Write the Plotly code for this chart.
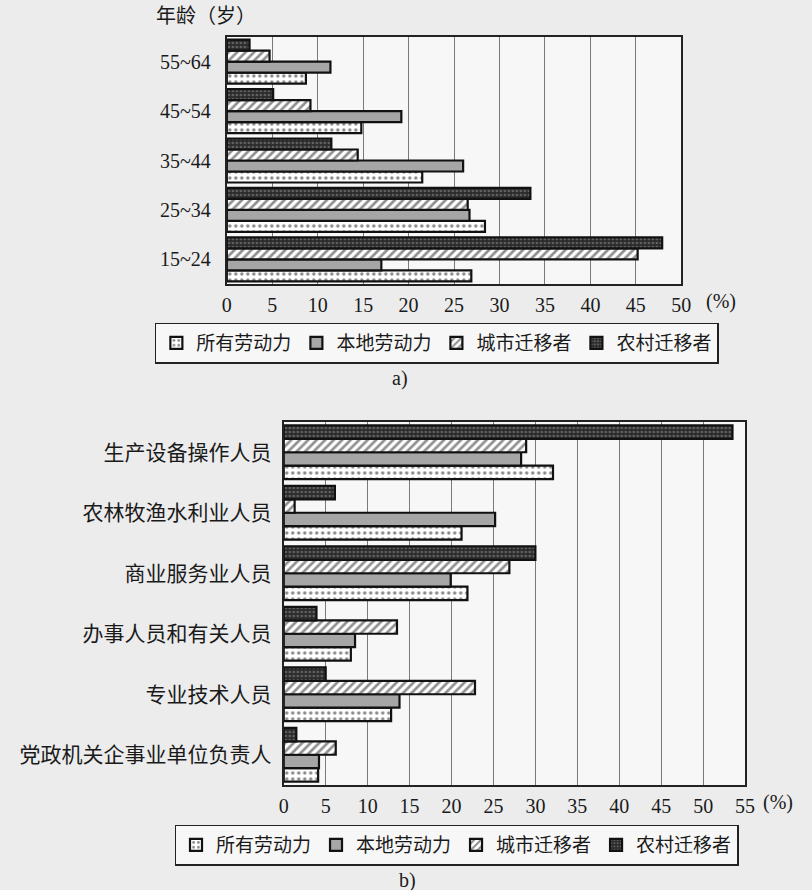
import plotly.graph_objects as go

# ---------------- data ----------------
series = ["所有劳动力", "本地劳动力", "城市迁移者", "农村迁移者"]

age_groups = ["15~24", "25~34", "35~44", "45~54", "55~64"]
age_all = [26.9, 28.4, 21.5, 14.8, 8.7]
age_local = [17.0, 26.7, 26.0, 19.2, 11.4]
age_urban = [45.2, 26.5, 14.4, 9.2, 4.7]
age_rural = [47.9, 33.4, 11.5, 5.1, 2.5]

occupations = ["党政机关企事业单位负责人", "专业技术人员", "办事人员和有关人员",
               "商业服务业人员", "农林牧渔水利业人员", "生产设备操作人员"]
occ_all = [4.1, 12.8, 8.0, 21.9, 21.2, 32.1]
occ_local = [4.2, 13.8, 8.5, 19.9, 25.2, 28.3]
occ_urban = [6.2, 22.8, 13.5, 26.9, 1.3, 28.9]
occ_rural = [1.5, 5.0, 3.9, 30.0, 6.1, 53.5]

top_ticks = [0, 5, 10, 15, 20, 25, 30, 35, 40, 45, 50]
bottom_ticks = [0, 5, 10, 15, 20, 25, 30, 35, 40, 45, 50, 55]

# ---------------- styles ----------------
FONT = "Liberation Serif, Noto Sans CJK SC, serif"
styles = [
    dict(color="white", pattern=dict(shape=".", bgcolor="white", fgcolor="#111", size=6, solidity=0.25)),
    dict(color="#a6a6a6", pattern=dict(shape="")),
    dict(color="white", pattern=dict(shape="/", bgcolor="white", fgcolor="#222", size=6, solidity=0.45)),
    dict(color="#2b2b2b", pattern=dict(shape=".", bgcolor="#2b2b2b", fgcolor="#9a9a9a", size=4, solidity=0.35)),
]

fig = go.Figure()

top_vals = [age_all, age_local, age_urban, age_rural]
bot_vals = [occ_all, occ_local, occ_urban, occ_rural]

for name, vals, st in zip(series, top_vals, styles):
    fig.add_trace(go.Bar(
        y=age_groups, x=vals, orientation="h", name=name,
        xaxis="x", yaxis="y", legend="legend",
        marker=dict(color=st["color"], pattern=st["pattern"],
                    line=dict(color="#111", width=2.2)),
    ))

for name, vals, st in zip(series, bot_vals, styles):
    fig.add_trace(go.Bar(
        y=occupations, x=vals, orientation="h", name=name,
        xaxis="x2", yaxis="y2", legend="legend2",
        marker=dict(color=st["color"], pattern=st["pattern"],
                    line=dict(color="#111", width=2.2)),
    ))

W, H = 812, 890
def px(x):
    return x / W
def py(y):
    return 1 - y / H

axis_common = dict(showline=True, linecolor="#222", linewidth=2, mirror=True,
                   zeroline=False)

fig.update_layout(
    width=W, height=H,
    margin=dict(l=0, r=0, t=0, b=0),
    paper_bgcolor="#ececec",
    plot_bgcolor="#f7f7f7",
    font=dict(family=FONT, color="#1a1a1a", size=20),
    barmode="group",
    bargap=0.11,
    bargroupgap=0,
    showlegend=True,
    xaxis=dict(domain=[px(226), px(689)], anchor="y", range=[0, 50],
               tickvals=top_ticks, ticks="", showgrid=True, gridcolor="#7a7a7a",
               gridwidth=1, tickfont=dict(size=20, family=FONT),
               ticklabelstandoff=2, **axis_common),
    yaxis=dict(domain=[py(284), py(37)], anchor="x", type="category",
               categoryorder="array", categoryarray=age_groups,
               ticks="", showgrid=False, tickfont=dict(size=20, family=FONT),
               ticklabelstandoff=10, **axis_common),
    xaxis2=dict(domain=[px(284), px(754)], anchor="y2", range=[0, 55],
                tickvals=bottom_ticks, ticks="", showgrid=True, gridcolor="#7a7a7a",
                gridwidth=1, tickfont=dict(size=20, family=FONT),
                ticklabelstandoff=2, **axis_common),
    yaxis2=dict(domain=[py(785), py(422)], anchor="x2", type="category",
                categoryorder="array", categoryarray=occupations,
                ticks="", showgrid=False, tickfont=dict(size=21, family=FONT),
                ticklabelstandoff=6, **axis_common),
    legend=dict(orientation="h", x=px(440), y=py(343), xanchor="center", yanchor="middle",
                bgcolor="#f7f7f7", bordercolor="#222", borderwidth=1.5,
                font=dict(size=19, family=FONT), traceorder="normal",
                itemwidth=30, entrywidth=0, tracegroupgap=0),
    legend2=dict(orientation="h", x=px(460), y=py(845), xanchor="center", yanchor="middle",
                 bgcolor="#f7f7f7", bordercolor="#222", borderwidth=1.5,
                 font=dict(size=19, family=FONT), traceorder="normal",
                 itemwidth=30, entrywidth=0, tracegroupgap=0),
    annotations=[
        dict(text="年龄（岁）", x=px(152), y=py(16), xref="paper", yref="paper",
             xanchor="left", yanchor="middle", showarrow=False, font=dict(size=20, family=FONT)),
        dict(text="(%)", x=px(712), y=py(301), xref="paper", yref="paper",
             xanchor="left", yanchor="middle", showarrow=False, font=dict(size=20, family=FONT)),
        dict(text="a)", x=px(402), y=py(378), xref="paper", yref="paper",
             xanchor="center", yanchor="middle", showarrow=False, font=dict(size=20, family=FONT)),
        dict(text="(%)", x=px(770), y=py(802), xref="paper", yref="paper",
             xanchor="left", yanchor="middle", showarrow=False, font=dict(size=20, family=FONT)),
        dict(text="b)", x=px(410), y=py(880), xref="paper", yref="paper",
             xanchor="center", yanchor="middle", showarrow=False, font=dict(size=20, family=FONT)),
    ],
)

fig.write_html("out.html")
